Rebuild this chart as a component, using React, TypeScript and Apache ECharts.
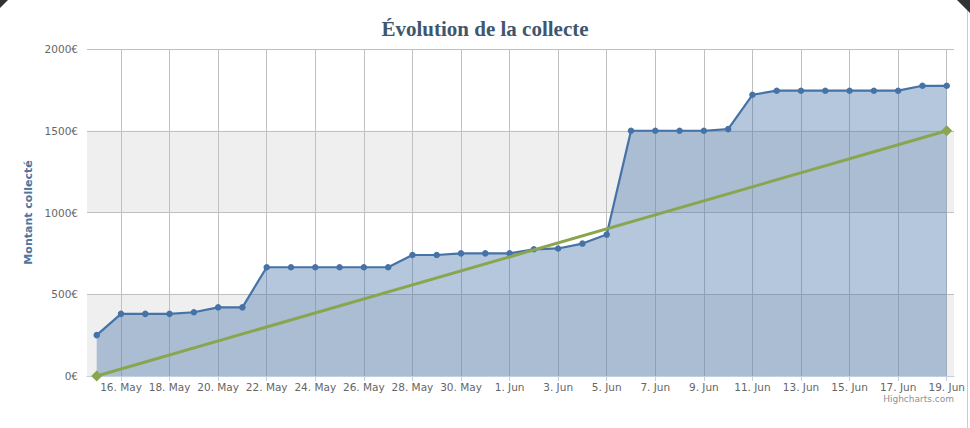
import React, { useEffect, useRef } from "react";
import * as echarts from "echarts";

// One entry per day, 15 May → 19 Jun
const dateLabels = [
  "15. May", "16. May", "17. May", "18. May", "19. May", "20. May", "21. May",
  "22. May", "23. May", "24. May", "25. May", "26. May", "27. May", "28. May",
  "29. May", "30. May", "31. May", "1. Jun", "2. Jun", "3. Jun", "4. Jun",
  "5. Jun", "6. Jun", "7. Jun", "8. Jun", "9. Jun", "10. Jun", "11. Jun",
  "12. Jun", "13. Jun", "14. Jun", "15. Jun", "16. Jun", "17. Jun", "18. Jun",
  "19. Jun",
];

// Montant collecté (€) per day
const collected = [
  250, 380, 380, 380, 390, 420, 420,
  665, 665, 665, 665, 665, 665, 740,
  740, 750, 750, 750, 775, 780, 810,
  865, 1500, 1500, 1500, 1500, 1510, 1720,
  1745, 1745, 1745, 1745, 1745, 1745, 1775,
  1775,
];

// Objective line: start and end (day index, €)
const goalDays = [0, 35];
const goalValues = [0, 1500];

// Labelled days (every second day, starting 16 May)
const tickDayIndexes = [1, 3, 5, 7, 9, 11, 13, 15, 17, 19, 21, 23, 25, 27, 29, 31, 33, 35];

const yTicks = [0, 500, 1000, 1500, 2000];

export default function App() {
  const ref = useRef<HTMLDivElement>(null);

  useEffect(() => {
    if (!ref.current) return;
    const chart = echarts.init(ref.current, undefined, { renderer: "svg" });
    const labelFont = "DejaVu Sans";
    chart.setOption({
      animation: false,
      backgroundColor: "#ffffff",
      title: {
        text: "Évolution de la collecte",
        left: "center",
        top: 13,
        textStyle: {
          fontFamily: "Liberation Serif",
          fontWeight: "bold",
          fontSize: 21,
          color: "#3E576F",
        },
      },
      grid: { left: 87, right: 16, top: 49, bottom: 52, containLabel: false },
      xAxis: {
        type: "value",
        min: -0.4,
        max: 35.3,
        axisLine: { show: true, lineStyle: { color: "#C0D0E0", width: 1 } },
        axisTick: {
          show: true,
          customValues: tickDayIndexes,
          length: 5,
          lineStyle: { color: "#C0D0E0" },
        },
        axisLabel: {
          customValues: tickDayIndexes,
          formatter: (v: number) => dateLabels[Math.round(v)] ?? "",
          color: "#666666",
          fontFamily: labelFont,
          fontSize: 10.5,
          margin: 5,
        },
        splitLine: { show: true, lineStyle: { color: "#C0C0C0", width: 1 } },
      },
      yAxis: {
        type: "value",
        min: yTicks[0],
        max: yTicks[yTicks.length - 1],
        interval: 500,
        name: "Montant collecté",
        nameLocation: "middle",
        nameGap: 47,
        nameRotate: 90,
        nameTextStyle: {
          color: "#4D759E",
          fontWeight: "bold",
          fontFamily: labelFont,
          fontSize: 11,
        },
        axisLine: { show: false },
        axisTick: { show: false },
        axisLabel: {
          formatter: (v: number) => `${v}€`,
          color: "#666666",
          fontFamily: labelFont,
          fontSize: 10.5,
          margin: 9,
        },
        splitLine: { show: true, lineStyle: { color: "#C0C0C0", width: 1 } },
        splitArea: {
          show: true,
          areaStyle: { color: ["#EFEFEF", "rgba(255,255,255,0)"] },
        },
      },
      series: [
        {
          name: "Montant collecté",
          type: "line",
          data: collected.map((v, i) => [i, v]),
          symbol: "circle",
          symbolSize: 6.5,
          showSymbol: true,
          itemStyle: { color: "#4572A7" },
          lineStyle: { color: "#4572A7", width: 2.2 },
          areaStyle: { color: "#4572A7", opacity: 0.4 },
          z: 2,
        },
        {
          name: "Objectif",
          type: "line",
          data: goalDays.map((d, i) => [d, goalValues[i]]),
          symbol: "diamond",
          symbolSize: 11,
          itemStyle: { color: "#89A54E" },
          lineStyle: { color: "#89A54E", width: 3 },
          z: 3,
        },
      ],
      graphic: [
        {
          type: "text",
          right: 16,
          top: 394,
          style: {
            text: "Highcharts.com",
            fill: "#909090",
            font: "9px DejaVu Sans",
          },
        },
        {
          type: "rect",
          shape: { x: 966, y: 0, width: 4, height: 428 },
          style: { fill: "#ffffff" },
          z: 100,
        },
        {
          type: "line",
          shape: { x1: 967.5, y1: 0, x2: 967.5, y2: 428 },
          style: { stroke: "#CCCCCC", lineWidth: 1 },
          z: 101,
        },
        {
          type: "polygon",
          shape: { points: [[0, 0], [8, 0], [0, 8]] },
          style: { fill: "#333333" },
          z: 102,
        },
        {
          type: "polygon",
          shape: { points: [[957, 0], [970, 0], [970, 13]] },
          style: { fill: "#333333" },
          z: 102,
        },
      ],
    });
    return () => chart.dispose();
  }, []);

  return (
    <div
      style={{ position: "absolute", left: 0, top: 0, width: 970, height: 428, background: "#fff" }}
    >
      <div ref={ref} style={{ width: 970, height: 428 }} />
    </div>
  );
}
